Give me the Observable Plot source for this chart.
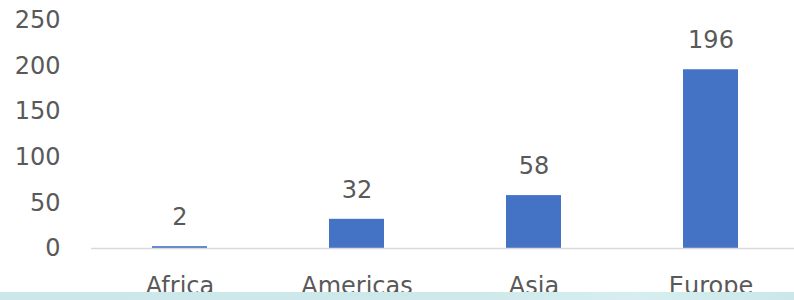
<!DOCTYPE html>
<html>
<head>
<meta charset="utf-8">
<script src="https://cdn.jsdelivr.net/npm/d3@7"></script>
<script src="https://cdn.jsdelivr.net/npm/@observablehq/plot@0.6"></script>
<style>
  html, body { margin: 0; padding: 0; background: #fff; }
  #wrap { position: relative; width: 794px; height: 300px; overflow: hidden; }
  #strip { position: absolute; left: 0; top: 292px; width: 794px; height: 8px;
           background: linear-gradient(90deg, #cbe7e9 0%, #cfe9eb 60%, #d6eeef 80%, #cbe7e9 100%); }
</style>
</head>
<body>
<div id="wrap"><div id="chart"></div><div id="strip"></div></div>
<script>
const regions = ["Africa", "Americas", "Asia", "Europe"];
const counts = [2, 32, 58, 196];
const yTicks = [0, 50, 100, 150, 200, 250];

const data = regions.map((r, i) => ({region: r, value: counts[i]}));

const chart = Plot.plot({
  width: 794,
  height: 300,
  marginLeft: 91,
  marginRight: -5,
  marginTop: 20,
  marginBottom: 52,
  style: {fontFamily: "DejaVu Sans", fontSize: "24px", color: "#595959", background: "transparent"},
  x: {domain: regions, paddingInner: 0.69, paddingOuter: 0.345, label: null, tickSize: 0, tickPadding: 28},
  y: {domain: [0, 250], ticks: yTicks, label: null, tickSize: 0, tickPadding: 31},
  marks: [
    Plot.barY(data, {x: "region", y: "value", fill: "#4472C4"}),
    Plot.ruleY([0], {stroke: "#d9d9d9", strokeWidth: 1.5}),
    Plot.text(data, {x: "region", y: "value", text: d => String(d.value), dy: -29, fill: "#595959", fontSize: 24})
  ]
});
document.getElementById("chart").appendChild(chart);
</script>
</body>
</html>
